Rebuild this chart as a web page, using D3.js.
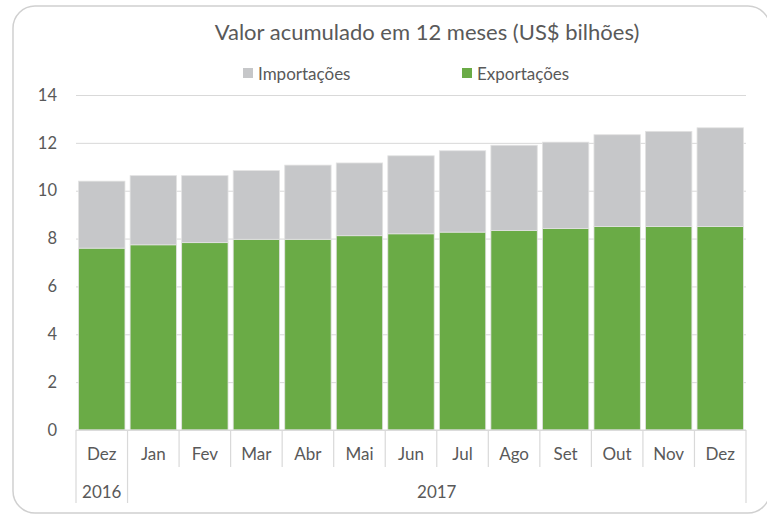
<!DOCTYPE html>
<html>
<head>
<meta charset="utf-8">
<script src="https://cdn.jsdelivr.net/npm/d3@7"></script>
<style>
  body { margin: 0; background: #fff; }
  text { font-family: Lato, "Noto Sans", sans-serif; fill: #595959; }
</style>
</head>
<body>
<svg id="chart" width="767" height="514"></svg>
<script>
// data
const months = ["Dez", "Jan", "Fev", "Mar", "Abr", "Mai", "Jun", "Jul", "Ago", "Set", "Out", "Nov", "Dez"];
const yearLabels = ["2016", "2017"];
const yearSpans = [1, 12]; // months per year group
const exportacoes = [7.6, 7.74, 7.83, 7.97, 7.97, 8.12, 8.2, 8.27, 8.34, 8.42, 8.5, 8.5, 8.5];
const importacoes = [2.8, 2.89, 2.8, 2.87, 3.1, 3.04, 3.26, 3.4, 3.56, 3.61, 3.84, 3.98, 4.13];
const yTicks = [0, 2, 4, 6, 8, 10, 12, 14];

const seriesNames = ["Exportações", "Importações"];
const colors = { "Exportações": "#6aab46", "Importações": "#c6c7c9" };

const svg = d3.select("#chart");

const plotLeft = 76, plotRight = 746, plotTop = 95, plotBottom = 430;

// chart frame (runs past the right edge of the picture)
svg.append("rect")
  .attr("x", 13).attr("y", 6)
  .attr("width", 757).attr("height", 507)
  .attr("rx", 22).attr("ry", 22)
  .attr("fill", "#fff")
  .attr("stroke", "#d0d0d0")
  .attr("stroke-width", 1.5);

const x = d3.scaleBand()
  .domain(d3.range(months.length))
  .range([plotLeft, plotRight])
  .paddingInner(0.1)
  .paddingOuter(0.05);

const y = d3.scaleLinear().domain([0, 14]).range([plotBottom, plotTop]);

// gridlines
svg.append("g")
  .attr("transform", `translate(${plotLeft},0)`)
  .call(d3.axisLeft(y).tickValues(yTicks).tickSize(-(plotRight - plotLeft)).tickFormat(""))
  .call(g => g.select(".domain").remove())
  .call(g => g.selectAll("line").attr("stroke", "#d9d9d9").attr("stroke-width", 1));

// y labels
svg.append("g")
  .attr("transform", `translate(${plotLeft},0)`)
  .call(d3.axisLeft(y).tickValues(yTicks).tickSize(0).tickPadding(19))
  .call(g => g.select(".domain").remove())
  .call(g => g.selectAll("text").attr("font-size", 16.5).attr("fill", "#595959"));

// stacked bars
const rows = months.map((m, i) => ({ i: i, "Exportações": exportacoes[i], "Importações": importacoes[i] }));
const stacked = d3.stack().keys(seriesNames)(rows);

svg.append("g")
  .selectAll("g")
  .data(stacked)
  .join("g")
  .attr("fill", d => colors[d.key])
  .selectAll("rect")
  .data(d => d)
  .join("rect")
  .attr("x", d => x(d.data.i))
  .attr("y", d => y(d[1]))
  .attr("width", x.bandwidth())
  .attr("height", d => y(d[0]) - y(d[1]))
  .attr("stroke", "#e2e2e2")
  .attr("stroke-width", 0.8);

// category axis
svg.append("line")
  .attr("x1", plotLeft).attr("x2", plotRight)
  .attr("y1", plotBottom).attr("y2", plotBottom)
  .attr("stroke", "#d9d9d9").attr("stroke-width", 1.2);

svg.append("g")
  .attr("transform", `translate(0,${plotBottom})`)
  .call(d3.axisBottom(x).tickSize(0).tickPadding(18).tickFormat(i => months[i]))
  .call(g => g.select(".domain").remove())
  .call(g => g.selectAll("text").attr("font-size", 17).attr("fill", "#595959"));

// separators between categories
const step = x.step();
const yearBounds = [0];
yearSpans.forEach(n => yearBounds.push(yearBounds[yearBounds.length - 1] + n));

svg.append("g")
  .selectAll("line")
  .data(d3.range(months.length + 1))
  .join("line")
  .attr("x1", k => plotLeft + k * step)
  .attr("x2", k => plotLeft + k * step)
  .attr("y1", plotBottom)
  .attr("y2", k => yearBounds.includes(k) ? 503 : 467)
  .attr("stroke", "#d9d9d9")
  .attr("stroke-width", 1.2);

// year labels
svg.append("g")
  .selectAll("text")
  .data(yearLabels)
  .join("text")
  .attr("x", (d, j) => plotLeft + (yearBounds[j] + yearBounds[j + 1]) / 2 * step)
  .attr("y", 498)
  .attr("text-anchor", "middle")
  .attr("font-size", 17)
  .text(d => d);

// title
svg.append("text")
  .attr("x", 427)
  .attr("y", 40)
  .attr("text-anchor", "middle")
  .attr("font-size", 22)
  .text("Valor acumulado em 12 meses (US$ bilhões)");

// legend
const legend = svg.append("g")
  .selectAll("g")
  .data(["Importações", "Exportações"])
  .join("g")
  .attr("transform", (d, j) => `translate(${243 + j * 219},68)`);

legend.append("rect")
  .attr("width", 10).attr("height", 10)
  .attr("fill", d => colors[d]);

legend.append("text")
  .attr("x", 15).attr("y", 12)
  .attr("font-size", 17)
  .text(d => d);
</script>
</body>
</html>
